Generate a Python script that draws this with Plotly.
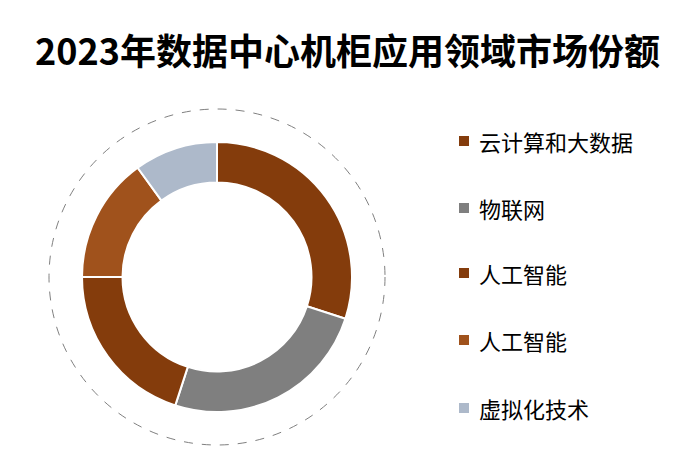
import plotly.graph_objects as go

labels = ["云计算和大数据", "物联网", "人工智能", "人工智能 ", "虚拟化技术"]
values = [30, 25, 20, 15, 10]
colors = ["#843C0C", "#7F7F7F", "#843C0C", "#A0521C", "#ADB9CA"]

W, H = 688, 472
OX, OY = 8, 9
def px(x): return (x-OX)/W
def py(y): return 1-(y-OY)/H

fig = go.Figure(go.Pie(
    labels=labels, values=values, hole=0.7, sort=False, direction="clockwise",
    rotation=0, marker=dict(colors=colors, line=dict(color="white", width=2)),
    textinfo="none", hoverinfo="label+percent",
    domain=dict(x=[px(82), px(352)], y=[py(413), py(143)]), showlegend=False))

cx, cy, r = 217, 278, 168
shapes = [dict(type="circle", xref="paper", yref="paper",
               x0=px(cx-r), x1=px(cx+r), y0=py(cy+r), y1=py(cy-r),
               line=dict(color="#808080", width=1, dash="dash"))]
ann = []
ys = [142, 209, 274, 341, 409]
for lab, col, y in zip(labels, colors, ys):
    shapes.append(dict(type="rect", xref="paper", yref="paper",
                       x0=px(459), x1=px(469), y0=py(y+5), y1=py(y-5),
                       fillcolor=col, line=dict(width=0)))
    ann.append(dict(text=lab.strip(), x=px(477), y=py(y), xref="paper", yref="paper",
                    xanchor="left", yanchor="middle", showarrow=False,
                    font=dict(size=22, color="#000", family="Noto Sans CJK SC")))
ann.append(dict(text="<b>2023年数据中心机柜应用领域市场份额</b>", x=px(347), y=py(50),
                xref="paper", yref="paper", showarrow=False, xanchor="center", yanchor="middle",
                font=dict(size=36, color="#000", family="Noto Sans CJK SC")))
fig.update_layout(width=W, height=H, margin=dict(l=0, r=0, t=0, b=0),
                  paper_bgcolor="white", shapes=shapes, annotations=ann)
fig.write_html("out.html")
